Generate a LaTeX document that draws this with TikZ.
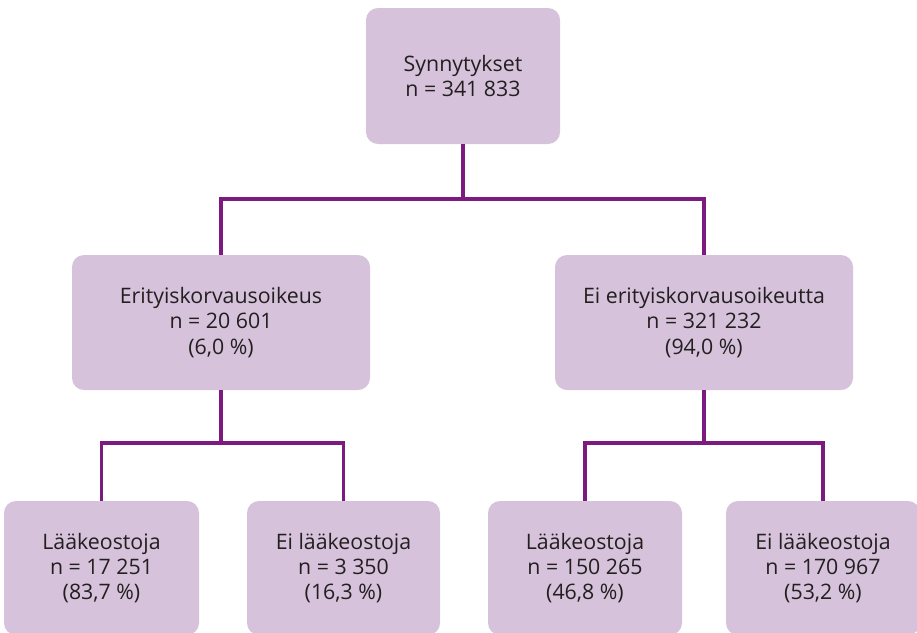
\documentclass[tikz,border=0pt]{standalone}
\usepackage{fontspec}
\setmainfont{Open Sans}
\definecolor{boxfill}{HTML}{D6C2DA}
\definecolor{linepurple}{HTML}{7D1A7F}
\definecolor{textgray}{HTML}{231F20}
\tikzset{
  box/.style={fill=boxfill, draw=none, rounded corners=9pt, align=center,
    text=textgray, font=\fontsize{16}{19}\selectfont, inner sep=0pt},
  conn/.style={draw=linepurple, line width=2.4pt}
}
\begin{document}
\begin{tikzpicture}[x=0.75pt, y=-0.75pt]
\clip (0,0) rectangle (917,632);
\fill[white] (0,0) rectangle (917,632);
\node[box, minimum width=194*0.75pt, minimum height=136*0.75pt] (top) at (463,76) {Synnytykset\\n = 341 833};
\node[box, minimum width=298*0.75pt, minimum height=135*0.75pt] (lmid) at (221,322.5) {Erityiskorvausoikeus\\n = 20 601\\(6,0 \%)};
\node[box, minimum width=298*0.75pt, minimum height=135*0.75pt] (rmid) at (704,322.5) {Ei erityiskorvausoikeutta\\n = 321 232\\(94,0 \%)};
\node[box, minimum width=195*0.75pt, minimum height=134*0.75pt] (ll) at (101.5,568) {Lääkeostoja\\n = 17 251\\(83,7 \%)};
\node[box, minimum width=193*0.75pt, minimum height=134*0.75pt] (lr) at (343.5,568) {Ei lääkeostoja\\n = 3 350\\(16,3 \%)};
\node[box, minimum width=194*0.75pt, minimum height=134*0.75pt] (rl) at (585,568) {Lääkeostoja\\n = 150 265\\(46,8 \%)};
\node[box, minimum width=194*0.75pt, minimum height=134*0.75pt] (rr) at (823,568) {Ei lääkeostoja\\n = 170 967\\(53,2 \%)};
\coordinate (b1) at (463,199);
\coordinate (b2) at (221,443);
\coordinate (b3) at (704,443);
\draw[conn] (top.south) -- (b1);
\draw[conn] (lmid.north) |- (b1) -| (rmid.north);
\draw[conn] (lmid.south) -- (b2);
\draw[conn] (ll.north) |- (b2) -| (lr.north);
\draw[conn] (rmid.south) -- (b3);
\draw[conn] (rl.north) |- (b3) -| (rr.north);
\end{tikzpicture}
\end{document}
